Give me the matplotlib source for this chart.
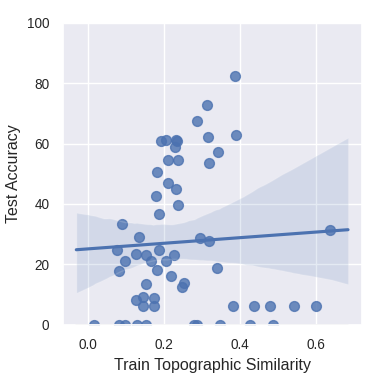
import numpy as np
import matplotlib
matplotlib.use("Agg")
import matplotlib.pyplot as plt
import seaborn as sns

# Data
similarity = [0.386, 0.314, 0.286, 0.390, 0.317, 0.192, 0.206, 0.233, 0.234, 0.229,
              0.342, 0.211, 0.238, 0.319, 0.182, 0.212, 0.231, 0.180, 0.237, 0.187,
              0.089, 0.135, 0.296, 0.318, 0.077, 0.126, 0.153, 0.188, 0.226, 0.098,
              0.166, 0.205, 0.083, 0.183, 0.339, 0.219, 0.254, 0.247, 0.153, 0.126,
              0.146, 0.173, 0.146, 0.175, 0.382, 0.436, 0.480, 0.541, 0.600, 0.637,
              0.016, 0.081, 0.097, 0.129, 0.153, 0.279, 0.288, 0.347, 0.427, 0.486]
accuracy = [82.2, 72.8, 67.5, 62.8, 62.3, 60.9, 61.2, 61.2, 60.7, 59.0,
            57.2, 54.5, 54.5, 53.5, 50.5, 47.0, 45.1, 42.8, 39.6, 36.8,
            33.5, 29.1, 28.6, 27.9, 24.7, 23.5, 23.1, 24.7, 23.2, 21.1,
            21.0, 21.0, 17.8, 18.0, 18.8, 16.1, 13.8, 12.6, 13.4, 8.3,
            9.2, 8.9, 6.3, 6.3, 6.3, 6.3, 6.3, 6.3, 6.3, 31.4,
            0, 0, 0, 0, 0, 0, 0, 0, 0, 0]
fit_range = [-0.03, 0.684]
x_limits = [-0.066, 0.72]
y_limits = [0, 100]
x_ticks = [0.0, 0.2, 0.4, 0.6]
y_ticks = [0, 20, 40, 60, 80, 100]

sns.set_theme(style="darkgrid")
plt.rcParams['font.family'] = ['Liberation Sans', 'DejaVu Sans']

fig = plt.figure(figsize=(3.84, 3.84), dpi=100)
ax = fig.add_axes([0.163, 0.154, 0.779, 0.787])
ax.set_xlim(fit_range)
np.random.seed(0)
sns.regplot(x=np.array(similarity), y=np.array(accuracy), ax=ax, truncate=False,
            color="#4C72B0", scatter_kws={"s": 50}, seed=0)
ax.plot(fit_range, [y_limits[0], y_limits[0]], color="#b8b8c0", lw=1.2, zorder=1)
ax.set_xlim(x_limits)
ax.set_ylim(y_limits)
ax.set_xticks(x_ticks)
ax.set_yticks(y_ticks)
ax.tick_params(labelsize=9.8, colors="#262626")
ax.set_xlabel("Train Topographic Similarity", fontsize=11.5, color="#262626")
ax.set_ylabel("Test Accuracy", fontsize=11.5, color="#262626")
fig.savefig("out.png", dpi=100)
